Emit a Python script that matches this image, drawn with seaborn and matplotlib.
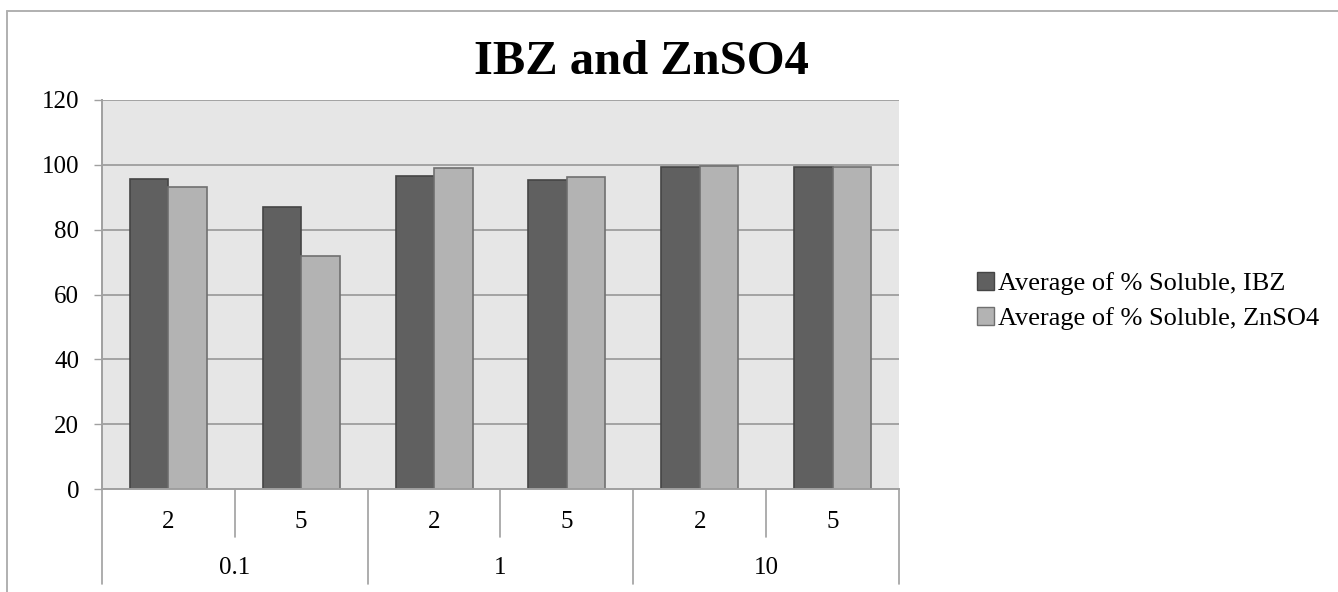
import matplotlib
matplotlib.use("Agg")
import matplotlib.pyplot as plt
import matplotlib.lines as mlines
import seaborn as sns
import pandas as pd

# Concentration groups (outer level) and ratios (inner level)
groups = ["0.1", "0.1", "1", "1", "10", "10"]
ratios = ["2", "5", "2", "5", "2", "5"]

ibz = [95.6, 86.9, 96.6, 95.3, 99.4, 99.4]
znso4 = [93.3, 72.0, 99.0, 96.4, 99.7, 99.3]

series_names = ["Average of % Soluble, IBZ", "Average of % Soluble, ZnSO4"]
yticks = [0, 20, 40, 60, 80, 100, 120]

keys = [f"{g}|{r}" for g, r in zip(groups, ratios)]
df = pd.DataFrame({
    "key": keys * 2,
    "value": ibz + znso4,
    "series": [series_names[0]] * len(keys) + [series_names[1]] * len(keys),
})

sns.set_style("white")
plt.rcParams["font.family"] = ["Liberation Serif", "DejaVu Serif"]
plt.rcParams["text.color"] = "black"
plt.rcParams["ytick.labelcolor"] = "black"

fig = plt.figure(figsize=(13.38, 5.92), dpi=100)
ax = fig.add_axes([102 / 1338, 103 / 592, 797 / 1338, 389 / 592])

face = {series_names[0]: "#606060", series_names[1]: "#b3b3b3"}
edges = ["#454545", "#707070"]

sns.barplot(data=df, x="key", y="value", hue="series", order=keys,
            hue_order=series_names, palette=face, width=0.58,
            saturation=1, errorbar=None, ax=ax, legend=False)
for cont, ec in zip(ax.containers, edges):
    for p in cont:
        p.set_edgecolor(ec)
        p.set_linewidth(1.2)

ax.set_facecolor("#e6e6e6")
ax.set_xlim(-0.5, len(keys) - 0.5)
ax.set_ylim(0, 120)
ax.set_yticks(yticks)
ax.set_yticklabels([str(t) for t in yticks], fontsize=18, color="black")
ax.yaxis.grid(True, color="#a3a3a3", linewidth=1.4)
ax.set_axisbelow(True)
ax.set_xlabel("")
ax.set_ylabel("")
ax.set_xticks([])
ax.tick_params(axis="y", left=True, length=5.5, width=1.0, color="#a0a0a0",
               pad=11, labelcolor="black")
for side in ["top", "right"]:
    ax.spines[side].set_visible(False)
for side in ["left", "bottom"]:
    ax.spines[side].set_color("#a0a0a0")
    ax.spines[side].set_linewidth(1.4)

# Two-level category axis: ratio labels above concentration labels
trans = ax.get_xaxis_transform()
ax_h = 389.0
inner_y = -(522 - 489) / ax_h
outer_y = -(568 - 489) / ax_h
short_end = -(537 - 489) / ax_h
long_end = -(584 - 489) / ax_h

for i, r in enumerate(ratios):
    ax.text(i, inner_y, r, transform=trans, ha="center", va="center",
            fontsize=18, color="black")

group_names = []
group_spans = []
for i, g in enumerate(groups):
    if not group_names or group_names[-1] != g:
        group_names.append(g)
        group_spans.append([i, i])
    else:
        group_spans[-1][1] = i
for g, (a, b) in zip(group_names, group_spans):
    ax.text((a + b) / 2, outer_y, g, transform=trans, ha="center", va="center",
            fontsize=18, color="black")
    for j in range(a, b):
        ax.plot([j + 0.5, j + 0.5], [0, short_end], transform=trans,
                color="#a0a0a0", lw=1.2, clip_on=False)
bounds = [-0.5] + [b + 0.5 for _, b in group_spans]
for x in bounds:
    ax.plot([x, x], [0, long_end], transform=trans, color="#a0a0a0",
            lw=1.2, clip_on=False)

# Title
fig.text(641 / 1338, 1 - 74 / 592, "IBZ and ZnSO4", ha="center", va="baseline",
         fontsize=35, fontweight="bold", color="black")

# Legend
handles = [plt.Rectangle((0, 0), 1, 1, facecolor=face[n], edgecolor=e, lw=1.0)
           for n, e in zip(series_names, edges)]
leg = fig.legend(handles, series_names, loc="center left",
                 bbox_to_anchor=(977 / 1338, 1 - 301 / 592), frameon=False,
                 fontsize=19, handlelength=0.66, handleheight=0.66,
                 handletextpad=0.12, labelspacing=0.45, borderpad=0,
                 borderaxespad=0)
for t in leg.get_texts():
    t.set_color("black")

# Chart frame
fig.add_artist(mlines.Line2D([7 / 1338, 1.0], [1 - 11 / 592, 1 - 11 / 592],
                             transform=fig.transFigure, color="#b0b0b0", lw=1.4))
fig.add_artist(mlines.Line2D([7 / 1338, 7 / 1338], [0.0, 1 - 11 / 592],
                             transform=fig.transFigure, color="#b0b0b0", lw=1.4))

fig.savefig("out.png", dpi=100, facecolor="white")
